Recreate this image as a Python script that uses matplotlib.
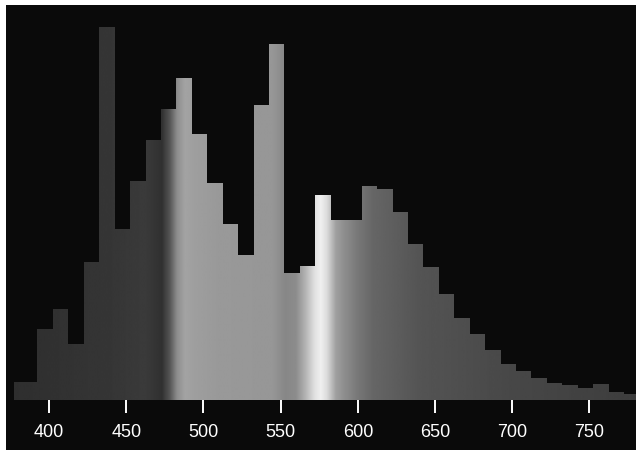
import numpy as np
import matplotlib
matplotlib.use("Agg")
import matplotlib.pyplot as plt
from matplotlib.patches import Rectangle, PathPatch
from matplotlib.path import Path

# spectral power histogram (relative intensity per ~10 nm band)
bin_left = [377.5, 392.5, 402.5, 412.5, 422.5, 432.5, 442.5, 452.5, 462.5, 472.5,
            482.5, 492.5, 502.5, 512.5, 522.5, 532.5, 542.5, 552.5, 562.5, 572.5,
            582.5, 592.5, 602.5, 612.5, 622.5, 632.5, 642.5, 652.5, 662.5, 672.5,
            682.5, 692.5, 702.5, 712.5, 722.5, 732.5, 742.5, 752.5, 762.5, 772.5]
bin_right_end = 782.5
intensity = [18, 71, 91, 56, 138, 373, 171, 219, 260, 291,
             322, 266, 217, 176, 145, 295, 356, 127, 134, 205,
             180, 180, 214, 211, 188, 156, 133, 106, 82, 66,
             50, 36, 29, 22, 17, 15, 12, 16, 8, 6]
tick_values = [400, 450, 500, 550, 600, 650, 700, 750]

# grey shading of the spectrum (wavelength -> grey level)
shade_nm = [372, 440, 462, 468, 473, 478, 483, 488, 495, 510, 545, 553, 560,
            566, 572, 576, 580, 586, 592, 600, 610, 640, 700, 782]
shade_grey = [0.18, 0.21, 0.23, 0.21, 0.19, 0.33, 0.56, 0.64, 0.62, 0.60, 0.59,
              0.53, 0.55, 0.70, 0.88, 0.94, 0.86, 0.62, 0.55, 0.47, 0.40, 0.33,
              0.28, 0.24]

W, H = 636, 450
fig = plt.figure(figsize=(W / 100, H / 100), dpi=100, facecolor="white")
fig.patches.append(Rectangle((6 / W, 0), 1 - 6 / W, 1 - 5 / H,
                             transform=fig.transFigure, facecolor="#0a0a0a",
                             edgecolor="none", zorder=-5))

ax = fig.add_axes([6 / W, 50 / H, 630 / W, 395 / H])
ax.set_facecolor("#0a0a0a")
ax.set_xlim(372.1, 780.2)
ax.set_ylim(0, 395)

widths = np.diff(bin_left + [bin_right_end])
bars = ax.bar(bin_left, intensity, width=widths, align="edge",
              color="none", edgecolor="none")

# gradient clipped to the bar outline
paths = [b.get_path().transformed(b.get_patch_transform()) for b in bars]
clip = PathPatch(Path.make_compound_path(*paths), transform=ax.transData,
                 facecolor="none", edgecolor="none")
ax.add_patch(clip)
xs = np.linspace(372.1, 780.2, 1200)
grey = np.interp(xs, shade_nm, shade_grey)
im = ax.imshow(grey[np.newaxis, :], cmap="gray", vmin=0, vmax=1, aspect="auto",
               extent=[372.1, 780.2, 0, 395], interpolation="bilinear", zorder=1)
im.set_clip_path(clip)

for side in ax.spines.values():
    side.set_visible(False)
ax.set_yticks([])
ax.set_xticks(tick_values)
ax.set_xticklabels([str(t) for t in tick_values], family="Liberation Sans",
                   fontsize=13, color="white")
ax.tick_params(axis="x", colors="white", length=9, width=1.4, pad=8,
               direction="out")

fig.savefig("out.png", dpi=100, facecolor="white")
